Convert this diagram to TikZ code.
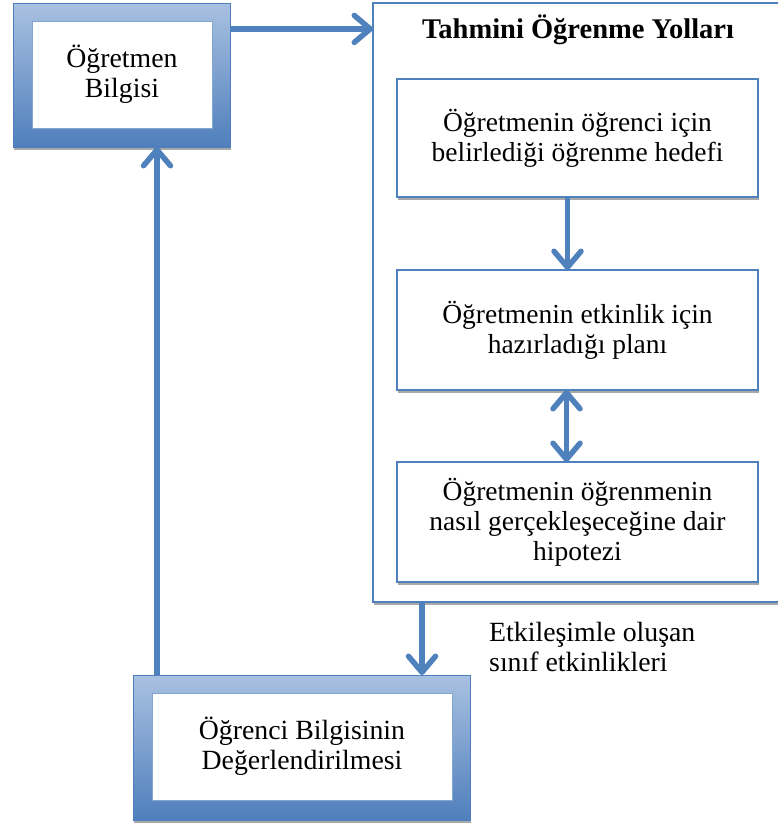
\documentclass[tikz,border=0pt]{standalone}
\usepackage{fontspec}
\setmainfont{Liberation Serif}
\usepackage{xcolor}
\usetikzlibrary{arrows.meta,positioning,calc,shadows}
\definecolor{framelight}{HTML}{A9C1E1}
\definecolor{framedark}{HTML}{4F7FBC}
\definecolor{lineblue}{HTML}{4F81BD}
\definecolor{shadowgray}{HTML}{A8A8A8}
\tikzset{
  framebox/.style={
    rectangle, top color=framelight, bottom color=framedark,
    draw=framedark, line width=0.8pt, inner sep=0pt, outer sep=0pt,
    drop shadow={shadow xshift=1pt, shadow yshift=-3pt,
      fill=shadowgray, opacity=1}
  },
  innerbox/.style={
    rectangle, fill=white, draw=framedark!70, line width=0.6pt,
    inner sep=0pt, font=\fontsize{27.8}{30}\selectfont, align=center
  },
  planbox/.style={
    rectangle, fill=white, draw=lineblue, line width=1.6pt,
    inner sep=0pt, outer sep=0pt, minimum width=361pt,
    font=\fontsize{27.5}{30}\selectfont, align=center,
    drop shadow={shadow xshift=1pt, shadow yshift=-3pt,
      fill=shadowgray, opacity=1}
  },
  chevron/.tip={Straight Barb[length=16pt, width=27pt, round]},
  flowarrow/.style={
    draw=lineblue, line width=5.5pt, -chevron
  },
  labelnode/.style={
    font=\fontsize{27.8}{30}\selectfont, align=left, inner sep=0pt
  },
}

\begin{document}
\begin{tikzpicture}[x=1pt, y=-1pt]
  \useasboundingbox (0,0) rectangle (778,827);
  \clip (0,0) rectangle (778,827);

  % Tahmini ogrenme yollari
  \node[planbox, minimum width=408pt, minimum height=599pt] (yollar) at (577,302.5) {};
  \node[font=\fontsize{28.5}{30}\selectfont\bfseries, inner sep=0pt] (baslik) at (578,30) {Tahmini Öğrenme Yolları};
  \node[planbox, minimum height=118pt] (hedef) at (577.5,138) {Öğretmenin öğrenci için\\belirlediği öğrenme hedefi};
  \node[planbox, minimum height=120pt] (plan) at (577.5,330) {Öğretmenin etkinlik için\\hazırladığı planı};
  \node[planbox, minimum height=120pt] (hipotez) at (577.5,522) {Öğretmenin öğrenmenin\\nasıl gerçekleşeceğine dair\\hipotezi};

  % Ogretmen bilgisi
  \node[framebox, minimum width=217pt, minimum height=144pt] (bilgi) at (121.5,75) {};
  \node[innerbox, minimum width=180pt, minimum height=107pt] (bilgiic) at (122,74.5) {Öğretmen\\Bilgisi};

  % Ogrenci bilgisinin degerlendirilmesi
  \node[framebox, minimum width=337pt, minimum height=145pt] (degerlendirme) at (301.5,747.5) {};
  \node[innerbox, minimum width=300pt, minimum height=107pt] (degerlendirmeic) at (302,746.5) {Öğrenci Bilgisinin\\Değerlendirilmesi};

  \node[labelnode, anchor=west] (etkinlik) at (489,647) {Etkileşimle oluşan\\sınıf etkinlikleri};

  % Baglantilar
  \coordinate (b1) at ($(bilgi.north east)!.18!(bilgi.south east)$);
  \coordinate (b2) at ($(degerlendirme.north west)+(24,0)$);
  \coordinate (b3) at ($(yollar.south west)+(49,0)$);
  \draw[flowarrow] (b1) -- (b1 -| yollar.west);
  \draw[flowarrow] (b2) -- (b2 |- bilgi.south);
  \draw[flowarrow] (b3) -- (b3 |- degerlendirme.north);
  \draw[flowarrow] ([xshift=-10pt]hedef.south) -- ([xshift=-10pt]plan.north);
  \draw[flowarrow, chevron-chevron]
    ([xshift=-11pt]plan.south) -- ([xshift=-11pt]hipotez.north);
\end{tikzpicture}
\end{document}
